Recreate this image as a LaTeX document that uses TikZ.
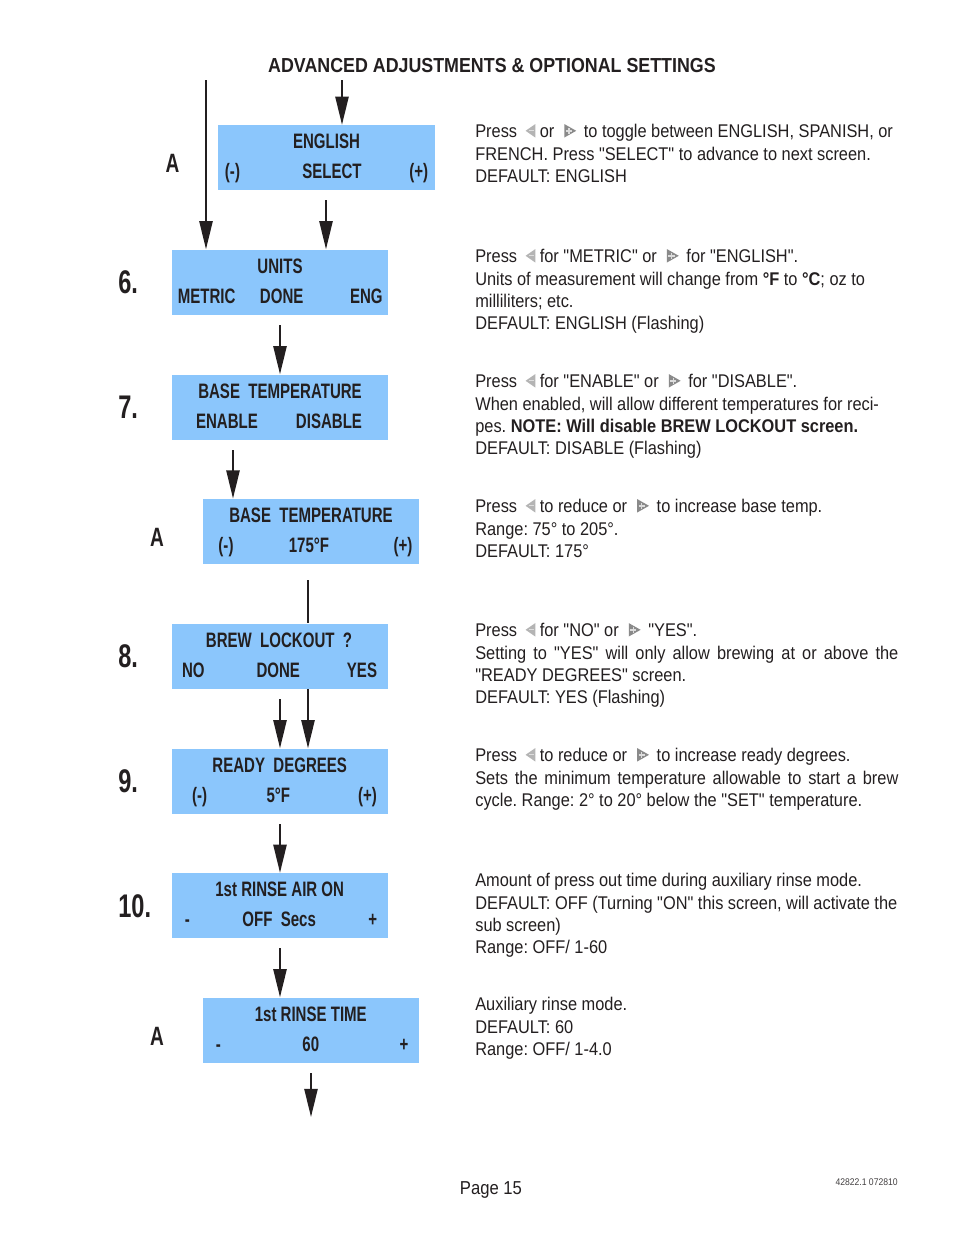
\documentclass[tikz,border=0pt]{standalone}
\usepackage{fontspec}
\setmainfont{Liberation Sans}[FakeStretch=0.89,Ligatures=TeXOff]
\newfontfamily\lcdfont{Liberation Sans}[FakeStretch=0.72]
\newfontfamily\titlefont{Liberation Sans}[FakeStretch=0.88]
\usetikzlibrary{arrows.meta}
\definecolor{ink}{HTML}{231F20}
\definecolor{lcdblue}{RGB}{139,198,252}
\definecolor{keylight}{HTML}{B4B4B4}
\definecolor{keydark}{HTML}{8A8A8A}
\tikzset{
  >={Triangle[length=18pt,width=8.4pt]},
  flow/.style={->, line width=1.3pt, draw=ink},
  wire/.style={line width=1.3pt, draw=ink},
  screen/.style={fill=lcdblue, minimum width=138.6pt, minimum height=41.9pt, inner sep=0pt},
  lcd/.style={anchor=base, inner sep=0pt, text=ink, font=\lcdfont\bfseries\fontsize{13.4}{16}\selectfont},
  stepno/.style={anchor=base west, inner sep=0pt, text=ink, font=\lcdfont\bfseries\fontsize{21}{24}\selectfont},
  rowlabel/.style={anchor=base, inner sep=0pt, text=ink, font=\lcdfont\bfseries\fontsize{17}{20}\selectfont},
  note/.style={anchor=base west, align=left, text width=300pt, inner sep=0pt, text=ink,
    font=\fontsize{11.8}{14.43}\selectfont, execute at begin node={\frenchspacing\spaceskip=0pt\xspaceskip=0pt}}
}
\newcommand\keyleft{\kern2.5pt\tikz[baseline=0pt,x=1pt,y=1pt]{\fill[keylight] (0,4.3) -- (6.2,8.6) -- (6.2,0) -- cycle;
  \draw[white!55!keylight,line width=0.8pt] (2.4,4.3) -- (5.2,4.3);}}
\newcommand\keyright{\kern3.5pt\tikz[baseline=0pt,x=1pt,y=1pt]{\fill[keydark] (0,0) -- (7.6,4.3) -- (0,8.6) -- cycle;
  \draw[white!70!keydark,line width=1pt] (0.9,4.3) -- (4.9,4.3) (2.9,2.3) -- (2.9,6.3);}\kern2pt}
\newcommand\fullline[1]{\makebox[271.4pt][s]{\spaceskip=0pt\xspaceskip=0pt #1}}

\begin{document}
\begin{tikzpicture}[x=0.6415pt,y=-0.6415pt]
  \useasboundingbox (0,0) rectangle (954,1235);
  \fill[white] (0,0) rectangle (954,1235);

  \node[anchor=base, inner sep=0pt, text=ink, font=\titlefont\bfseries\fontsize{13}{16}\selectfont] (title) at (492,72.5)
    {ADVANCED ADJUSTMENTS \& OPTIONAL SETTINGS};

  % screens
  \node[screen] (s0) at (326.5,157.75) {};
  \node[screen] (s6) at (280,282.25) {};
  \node[screen] (s7) at (280,407.25) {};
  \node[screen] (sA1) at (311,531.5) {};
  \node[screen] (s8) at (280,656.25) {};
  \node[screen] (s9) at (280,781.25) {};
  \node[screen] (s10) at (280,905.75) {};
  \node[screen] (sA2) at (311,1030.25) {};

  % screen texts
  \node[lcd] (s0a) at (326.5,148.5) {ENGLISH};
  \node[lcd] (s0b) at (232.5,178.5) {(-)};
  \node[lcd] (s0c) at (332,178.5) {SELECT};
  \node[lcd] (s0d) at (418.8,178.5) {(+)};

  \node[lcd] (s6a) at (280,273.5) {UNITS};
  \node[lcd] (s6b) at (206.7,303.5) {METRIC};
  \node[lcd] (s6c) at (281.7,303.5) {DONE};
  \node[lcd] (s6d) at (366.3,303.5) {ENG};

  \node[lcd] (s7a) at (280,398.5) {BASE\ \ TEMPERATURE};
  \node[lcd] (s7b) at (227,428.5) {ENABLE};
  \node[lcd] (s7c) at (329,428.5) {DISABLE};

  \node[lcd] (sA1a) at (311,522.5) {BASE\ \ TEMPERATURE};
  \node[lcd] (sA1b) at (226,552.5) {(-)};
  \node[lcd] (sA1c) at (309,552.5) {175°F};
  \node[lcd] (sA1d) at (403,552.5) {(+)};

  \node[lcd] (s8a) at (279,647.5) {BREW\ \ LOCKOUT\ \ ?};
  \node[lcd] (s8b) at (193.3,677.5) {NO};
  \node[lcd] (s8c) at (278.3,677.5) {DONE};
  \node[lcd] (s8d) at (362,677.5) {YES};

  \node[lcd] (s9a) at (279.7,772.5) {READY\ \ DEGREES};
  \node[lcd] (s9b) at (199.7,802.5) {(-)};
  \node[lcd] (s9c) at (278.3,802.5) {5°F};
  \node[lcd] (s9d) at (367.5,802.5) {(+)};

  \node[lcd] (s10a) at (279.7,896.5) {1st RINSE AIR ON};
  \node[lcd] (s10b) at (187.5,926.5) {-};
  \node[lcd] (s10c) at (279.2,926.5) {OFF\ \ Secs};
  \node[lcd] (s10d) at (372.8,926.5) {+};

  \node[lcd] (sA2a) at (310.8,1021.5) {1st RINSE TIME};
  \node[lcd] (sA2b) at (218.3,1051.5) {-};
  \node[lcd] (sA2c) at (310.8,1051.5) {60};
  \node[lcd] (sA2d) at (404,1051.5) {+};

  % labels on the left
  \node[rowlabel] (lA0) at (172.5,172) {A};
  \node[stepno] (l6) at (118,293) {6.};
  \node[stepno] (l7) at (118,418.5) {7.};
  \node[rowlabel] (lA1) at (157,546) {A};
  \node[stepno] (l8) at (118,667.5) {8.};
  \node[stepno] (l9) at (118,792.5) {9.};
  \node[stepno] (l10) at (118,917) {10.};
  \node[rowlabel] (lA2) at (157,1045) {A};

  % connectors
  \coordinate (top) at (342,80);
  \coordinate (back) at (206,80);
  \coordinate (a0) at (326,200);
  \coordinate (a6) at (280,325);
  \coordinate (a7) at (233,450);
  \coordinate (a8in) at (308,580);
  \coordinate (a8) at (280,699);
  \coordinate (a9) at (280,824);
  \coordinate (a10) at (280,948);
  \coordinate (aA) at (311,1073);
  \coordinate (aEnd) at (311,1117);

  \draw[flow] (top) -- (top |- s0.north);
  \draw[flow] (back) -- (back |- s6.north);
  \draw[flow] (a0) -- (a0 |- s6.north);
  \draw[flow] (a6) -- (a6 |- s7.north);
  \draw[flow] (a7) -- (a7 |- sA1.north);
  \draw[wire] (a8in) -- (a8in |- s8.north);
  \draw[flow] (a8) -- (a8 |- s9.north);
  \draw[flow] (a8in |- s8.south) -- (a8in |- s9.north);
  \draw[flow] (a9) -- (a9 |- s10.north);
  \draw[flow] (a10) -- (a10 |- sA2.north);
  \draw[flow] (aA) -- (aEnd);

  % notes
  \node[note] (n0) at (475,137.5) {Press \keyleft{} or \keyright{} to toggle between ENGLISH, SPANISH, or\\
    FRENCH. Press "SELECT" to advance to next screen.\\
    DEFAULT: ENGLISH};
  \node[note] (n6) at (475,262.5) {Press \keyleft{} for "METRIC" or \keyright{} for "ENGLISH".\\
    Units of measurement will change from \textbf{°F} to \textbf{°C}; oz to\\
    milliliters; etc.\\
    DEFAULT: ENGLISH (Flashing)};
  \node[note] (n7) at (475,387.5) {Press \keyleft{} for "ENABLE" or \keyright{} for "DISABLE".\\
    When enabled, will allow different temperatures for reci-\\
    pes. \textbf{NOTE: Will disable BREW LOCKOUT screen.}\\
    DEFAULT: DISABLE (Flashing)};
  \node[note] (nA1) at (475,512.5) {Press \keyleft{} to reduce or \keyright{} to increase base temp.\\
    Range: 75° to 205°.\\
    DEFAULT: 175°};
  \node[note] (n8) at (475,636.5) {Press \keyleft{} for "NO" or \keyright{} "YES".\\
    \fullline{Setting to "YES" will only allow brewing at or above the}\\
    "READY DEGREES" screen.\\
    DEFAULT: YES (Flashing)};
  \node[note] (n9) at (475,761.5) {Press \keyleft{} to reduce or \keyright{} to increase ready degrees.\\
    \fullline{Sets the minimum temperature allowable to start a brew}\\
    cycle. Range: 2° to 20° below the "SET" temperature.};
  \node[note] (n10) at (475,886.5) {Amount of press out time during auxiliary rinse mode.\\
    DEFAULT: OFF (Turning "ON" this screen, will activate the\\
    sub screen)\\
    Range: OFF/ 1-60};
  \node[note] (nA2) at (475,1010.5) {Auxiliary rinse mode.\\
    DEFAULT: 60\\
    Range: OFF/ 1-4.0};

  % footer
  \node[anchor=base, inner sep=0pt, text=ink, font=\fontsize{12}{14}\selectfont] (page) at (491,1194) {Page 15};
  \node[anchor=base east, inner sep=0pt, text=ink!85, font=\fontsize{6.2}{8}\selectfont] (docno) at (898,1185) {42822.1 072810};
\end{tikzpicture}
\end{document}
